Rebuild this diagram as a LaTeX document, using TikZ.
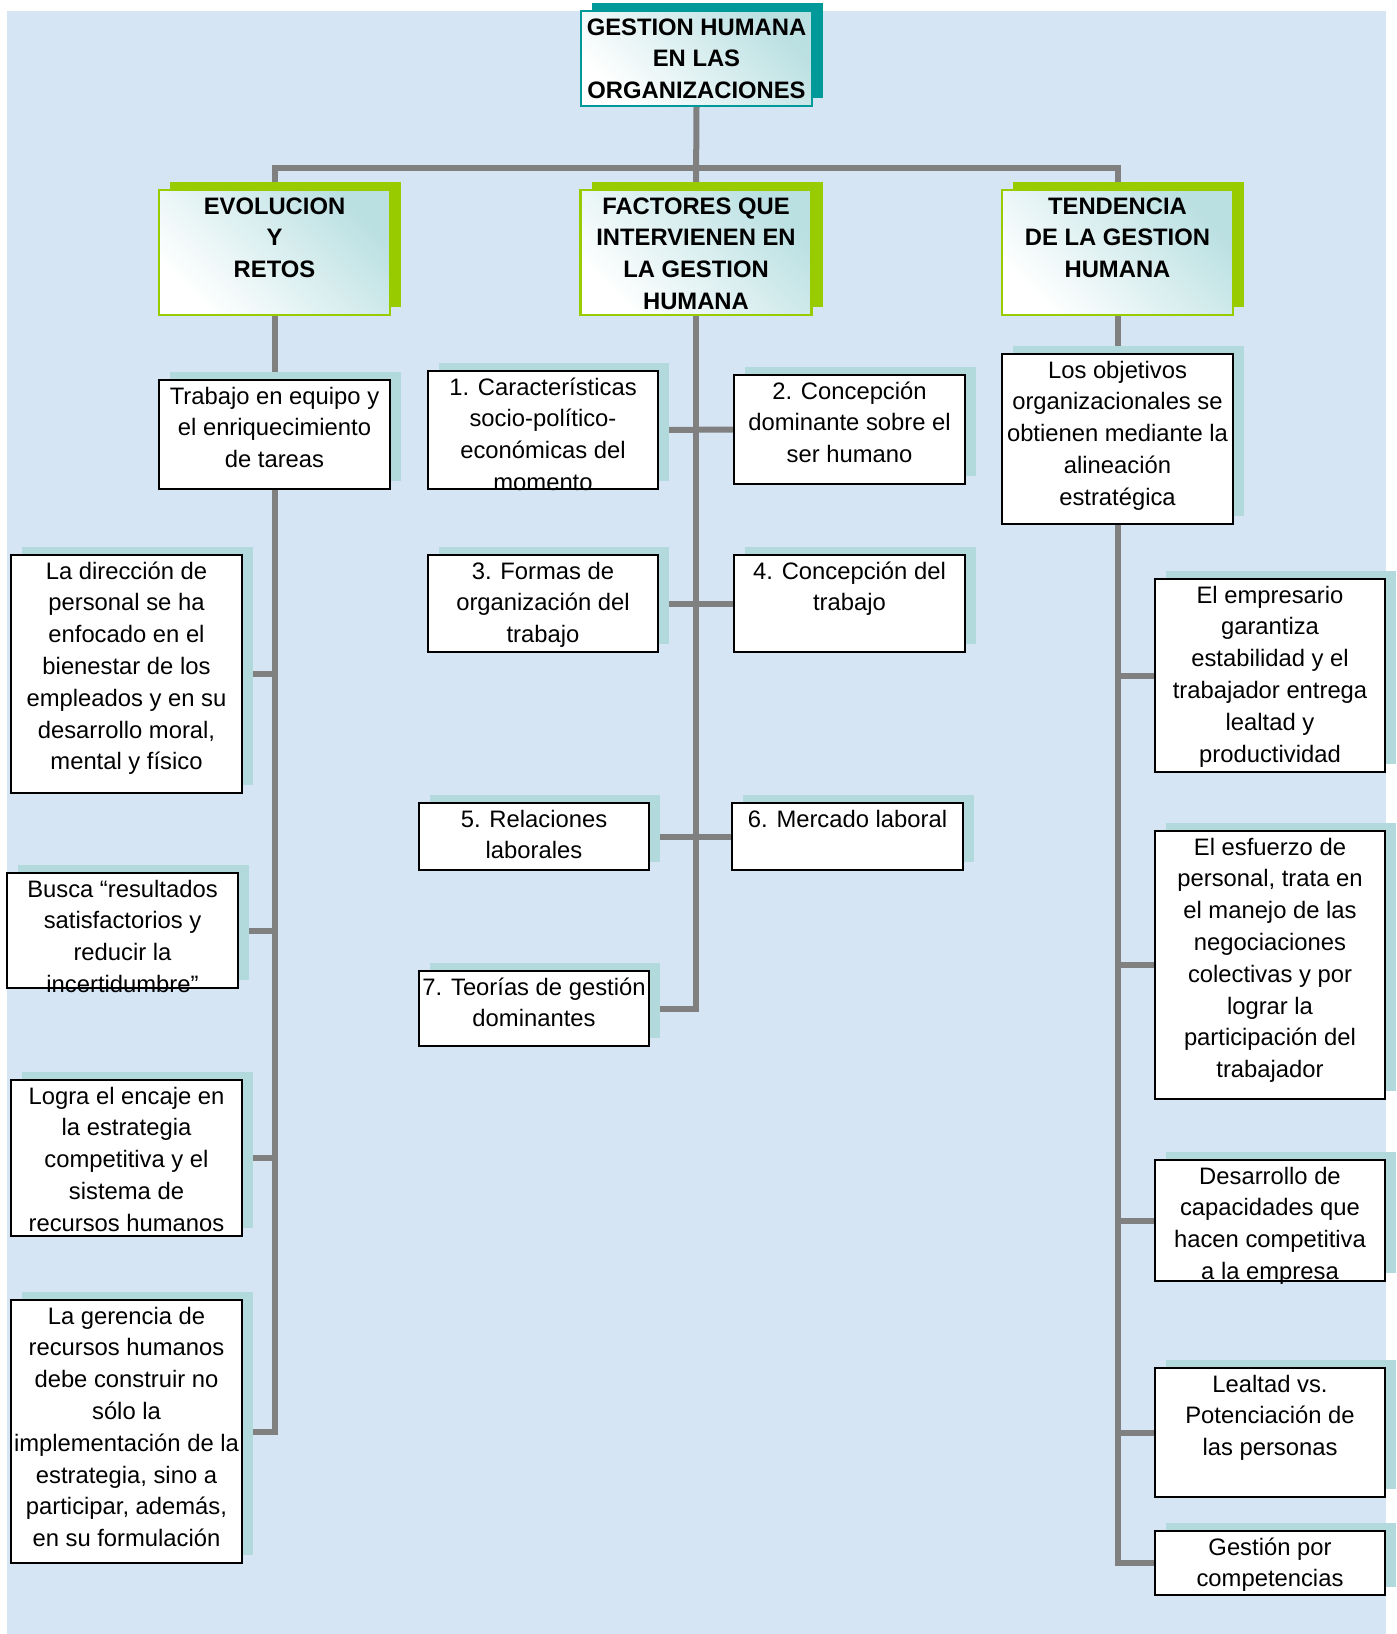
\documentclass[tikz,border=0pt]{standalone}
\usepackage{fontspec}
\setmainfont{Liberation Sans}
\usetikzlibrary{shadows}
\definecolor{bgc}{RGB}{214,229,244}
\definecolor{tealdark}{RGB}{0,153,153}
\definecolor{tealpale}{RGB}{178,218,220}
\definecolor{tealgrad}{RGB}{186,224,226}
\definecolor{grn}{RGB}{153,204,0}
\definecolor{conncol}{RGB}{128,128,128}
\newcommand\tb[3]{\parbox[c][#2][t]{#1}{\centering\rule{0pt}{24pt}#3\par}}
\pgfdeclarelayer{bgl}
\pgfdeclarelayer{cl}
\pgfsetlayers{bgl,cl,main}
\tikzset{
  txt/.style={font=\fontsize{23.8}{31.8}\selectfont},
  leaf/.style={txt, draw=black, line width=2pt, fill=white, inner xsep=2pt, inner ysep=0pt,
    drop shadow={shadow xshift=11pt, shadow yshift=8pt, fill=tealpale, opacity=1}},
  hdr/.style={font=\fontsize{23.8}{31.8}\selectfont\bfseries, line width=2.5pt, inner xsep=2pt, inner ysep=0pt,
    top color=tealgrad, bottom color=white, shading angle=-45},
  lvl/.style={hdr, draw=grn, drop shadow={shadow xshift=11pt, shadow yshift=8pt, fill=grn, opacity=1}},
  ttl/.style={hdr, draw=tealdark, line width=2pt, drop shadow={shadow xshift=11pt, shadow yshift=8pt, fill=tealdark, opacity=1}},
  conn/.style={draw=conncol, line width=6pt, line join=miter}
}
\begin{document}
\begin{tikzpicture}[x=1pt,y=-1pt]
\useasboundingbox (0,0) rectangle (1397,1634);
\begin{pgfonlayer}{bgl}
  \fill[bgc] (7,11) rectangle (1386,1634);
\end{pgfonlayer}

% title
\node[ttl] (title) at (696.5,58.5) {\tb{227pt}{95pt}{GESTION HUMANA\\EN LAS\\ORGANIZACIONES}};

% level 2
\node[lvl] (evo) at (274.5,252.5) {\tb{227pt}{125pt}{EVOLUCION\\Y\\RETOS}};
\node[lvl] (fac) at (696,252.5) {\tb{227pt}{125pt}{FACTORES QUE\\INTERVIENEN EN\\LA GESTION\\HUMANA}};
\node[lvl] (ten) at (1117.5,252.5) {\tb{227pt}{125pt}{TENDENCIA\\DE LA GESTION\\HUMANA}};

% left column
\node[leaf] (trab) at (274.5,434.5) {\tb{227pt}{109pt}{Trabajo en equipo y\\el enriquecimiento\\de tareas}};
\node[leaf] (dir) at (126.5,674) {\tb{227pt}{238pt}{La dirección de\\personal se ha\\enfocado en el\\bienestar de los\\empleados y en su\\desarrollo moral,\\mental y físico}};
\node[leaf] (bsc) at (122.5,930.5) {\tb{227pt}{115pt}{Busca “resultados\\satisfactorios y\\reducir la\\incertidumbre”}};
\node[leaf] (log) at (126.5,1158) {\tb{227pt}{156pt}{Logra el encaje en\\la estrategia\\competitiva y el\\sistema de\\recursos humanos}};
\node[leaf] (ger) at (126.5,1431.5) {\tb{227pt}{263pt}{La gerencia de\\recursos humanos\\debe construir no\\sólo la\\implementación de la\\estrategia, sino a\\participar, además,\\en su formulación}};

% center column
\node[leaf] (c1) at (543,430) {\tb{226pt}{118pt}{1. Características\\socio-político-\\económicas del\\momento}};
\node[leaf] (c2) at (849.5,429.5) {\tb{227pt}{109pt}{2. Concepción\\dominante sobre el\\ser humano}};
\node[leaf] (c3) at (543,603.5) {\tb{226pt}{97pt}{3. Formas de\\organización del\\trabajo}};
\node[leaf] (c4) at (849.5,603.5) {\tb{227pt}{97pt}{4. Concepción del\\trabajo}};
\node[leaf] (c5) at (534,836.5) {\tb{226pt}{67pt}{5. Relaciones\\laborales}};
\node[leaf] (c6) at (847.5,836.5) {\tb{227pt}{67pt}{6. Mercado laboral}};
\node[leaf] (c7) at (534,1008.5) {\tb{226pt}{75pt}{7. Teorías de gestión\\dominantes}};

% right column
\node[leaf] (obj) at (1117.5,439) {\tb{227pt}{170pt}{Los objetivos\\organizacionales se\\obtienen mediante la\\alineación\\estratégica}};
\node[leaf] (emp) at (1270,675.5) {\tb{226pt}{193pt}{El empresario\\garantiza\\estabilidad y el\\trabajador entrega\\lealtad y\\productividad}};
\node[leaf] (esf) at (1270,965) {\tb{226pt}{268pt}{El esfuerzo de\\personal, trata en\\el manejo de las\\negociaciones\\colectivas y por\\lograr la\\participación del\\trabajador}};
\node[leaf] (des) at (1270,1220.5) {\tb{226pt}{121pt}{Desarrollo de\\capacidades que\\hacen competitiva\\a la empresa}};
\node[leaf] (lea) at (1270,1432.5) {\tb{226pt}{129pt}{Lealtad vs.\\Potenciación de\\las personas}};
\node[leaf] (ges) at (1270,1563) {\tb{226pt}{64pt}{Gestión por\\competencias}};

\coordinate (bus) at (696,168);

\begin{pgfonlayer}{cl}
  \draw[conn] (title.south) -- (fac.north);
  \draw[conn] (evo.north) -- (evo.north |- bus) -- (ten.north |- bus) -- (ten.north);
  % left
  \draw[conn] (evo.south) -- (trab.north);
  \draw[conn] (trab.south) -- (trab.south |- ger.east) -- (ger.east);
  \draw[conn] (dir.east) -- (dir.east -| trab.south);
  \draw[conn] (bsc.east) -- (bsc.east -| trab.south);
  \draw[conn] (log.east) -- (log.east -| trab.south);
  % center
  \draw[conn] (fac.south) -- (fac.south |- c7.east) -- (c7.east);
  \draw[conn] (c1.east) -- (c2.west);
  \draw[conn] (c3.east) -- (c4.west);
  \draw[conn] (c5.east) -- (c6.west);
  % right
  \draw[conn] (ten.south) -- (obj.north);
  \draw[conn] (obj.south) -- (obj.south |- ges.west) -- (ges.west);
  \draw[conn] (emp.west) -- (emp.west -| obj.south);
  \draw[conn] (esf.west) -- (esf.west -| obj.south);
  \draw[conn] (des.west) -- (des.west -| obj.south);
  \draw[conn] (lea.west) -- (lea.west -| obj.south);
\end{pgfonlayer}
\end{tikzpicture}
\end{document}
